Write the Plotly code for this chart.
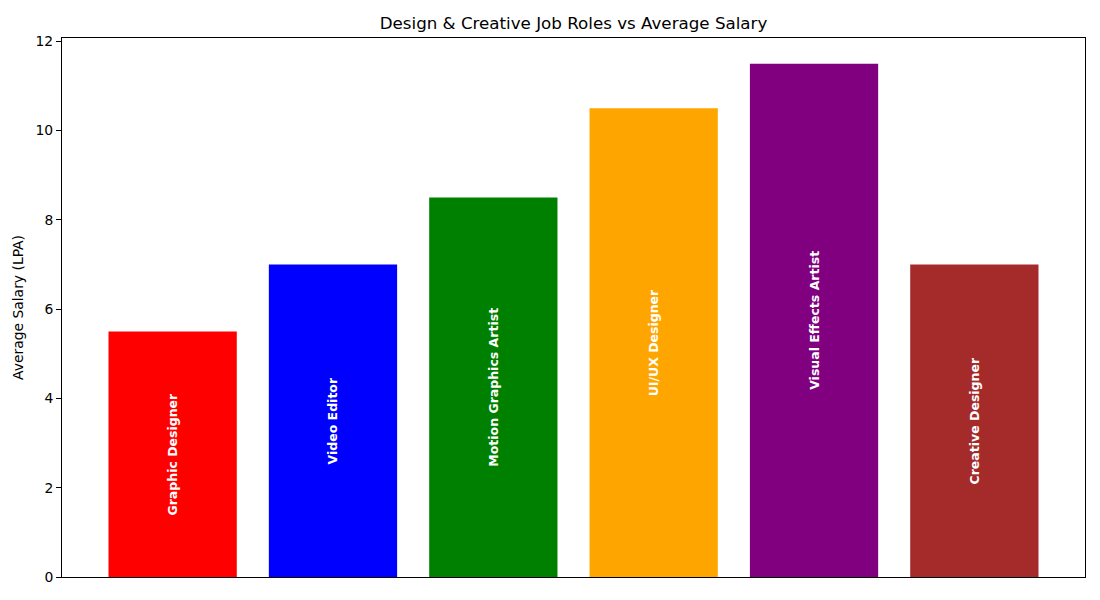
import plotly.graph_objects as go

# Veriler
roles = ["Graphic Designer", "Video Editor", "Motion Graphics Artist",
         "UI/UX Designer", "Visual Effects Artist", "Creative Designer"]
salaries = [5.5, 7.0, 8.5, 10.5, 11.5, 7.0]
colors = ["red", "blue", "green", "orange", "purple", "brown"]
y_ticks = [0, 2, 4, 6, 8, 10, 12]

fig = go.Figure(go.Bar(
    x=roles,
    y=salaries,
    width=0.8,
    marker=dict(color=colors, line=dict(width=0)),
    text=["<b>%s</b>" % r for r in roles],
    textposition="inside",
    insidetextanchor="middle",
    textangle=-90,
    textfont=dict(family="DejaVu Sans", size=12.5, color="white"),
    hoverinfo="x+y",
))

axis_common = dict(showline=True, linecolor="black", linewidth=1, mirror=True,
                   showgrid=False, zeroline=False)

# sayfa kenar boşluğu (8px) hesaba katıldı
fig.update_layout(
    width=1100, height=600,
    plot_bgcolor="white", paper_bgcolor="white",
    margin=dict(l=54, r=23, t=30, b=31, autoexpand=False),
    font=dict(family="DejaVu Sans", color="black", size=13.9),
    title=dict(text="Design & Creative Job Roles vs Average Salary",
               x=0.5, xanchor="center", xref="paper", y=1 - 15 / 600, yanchor="middle",
               font=dict(size=16.7)),
    showlegend=False,
    xaxis=dict(range=[-0.69, 5.69], showticklabels=False, ticks="",
               automargin=False, **axis_common),
    yaxis=dict(range=[0, 12.075], tickvals=y_ticks, ticks="outside", ticklen=5,
               tickcolor="black", tickfont=dict(size=13.9), automargin=True,
               title=dict(text="Average Salary (LPA)", standoff=8, font=dict(size=13.9)),
               **axis_common),
)

fig.write_html("out.html")
